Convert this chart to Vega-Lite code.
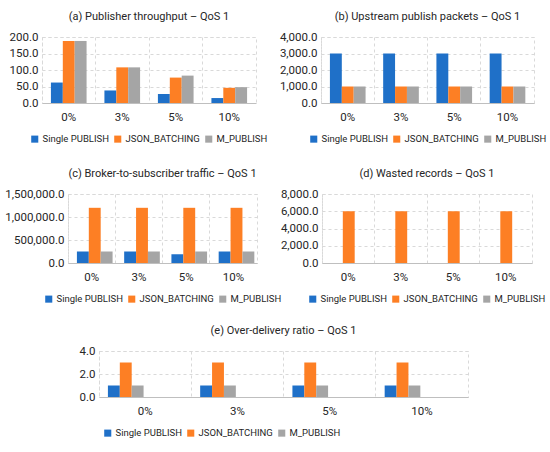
{
  "$schema": "https://vega.github.io/schema/vega-lite/v6.json",
  "background": "white",
  "padding": {"left": -24, "right": 0, "top": 10, "bottom": 5},
  "datasets": {
    "a": [
      {"pct": "0%", "series": "Single PUBLISH", "value": 62},
      {"pct": "0%", "series": "JSON_BATCHING", "value": 188},
      {"pct": "0%", "series": "M_PUBLISH", "value": 188},
      {"pct": "3%", "series": "Single PUBLISH", "value": 38},
      {"pct": "3%", "series": "JSON_BATCHING", "value": 108},
      {"pct": "3%", "series": "M_PUBLISH", "value": 108},
      {"pct": "5%", "series": "Single PUBLISH", "value": 27},
      {"pct": "5%", "series": "JSON_BATCHING", "value": 77},
      {"pct": "5%", "series": "M_PUBLISH", "value": 83},
      {"pct": "10%", "series": "Single PUBLISH", "value": 15},
      {"pct": "10%", "series": "JSON_BATCHING", "value": 46},
      {"pct": "10%", "series": "M_PUBLISH", "value": 48}
    ],
    "b": [
      {"pct": "0%", "series": "Single PUBLISH", "value": 3000},
      {"pct": "0%", "series": "JSON_BATCHING", "value": 1000},
      {"pct": "0%", "series": "M_PUBLISH", "value": 1000},
      {"pct": "3%", "series": "Single PUBLISH", "value": 3000},
      {"pct": "3%", "series": "JSON_BATCHING", "value": 1000},
      {"pct": "3%", "series": "M_PUBLISH", "value": 1000},
      {"pct": "5%", "series": "Single PUBLISH", "value": 3000},
      {"pct": "5%", "series": "JSON_BATCHING", "value": 1000},
      {"pct": "5%", "series": "M_PUBLISH", "value": 1000},
      {"pct": "10%", "series": "Single PUBLISH", "value": 3000},
      {"pct": "10%", "series": "JSON_BATCHING", "value": 1000},
      {"pct": "10%", "series": "M_PUBLISH", "value": 1000}
    ],
    "c": [
      {"pct": "0%", "series": "Single PUBLISH", "value": 250000},
      {"pct": "0%", "series": "JSON_BATCHING", "value": 1200000},
      {"pct": "0%", "series": "M_PUBLISH", "value": 250000},
      {"pct": "3%", "series": "Single PUBLISH", "value": 250000},
      {"pct": "3%", "series": "JSON_BATCHING", "value": 1200000},
      {"pct": "3%", "series": "M_PUBLISH", "value": 250000},
      {"pct": "5%", "series": "Single PUBLISH", "value": 190000},
      {"pct": "5%", "series": "JSON_BATCHING", "value": 1200000},
      {"pct": "5%", "series": "M_PUBLISH", "value": 250000},
      {"pct": "10%", "series": "Single PUBLISH", "value": 250000},
      {"pct": "10%", "series": "JSON_BATCHING", "value": 1200000},
      {"pct": "10%", "series": "M_PUBLISH", "value": 250000}
    ],
    "d": [
      {"pct": "0%", "series": "Single PUBLISH", "value": 0},
      {"pct": "0%", "series": "JSON_BATCHING", "value": 6000},
      {"pct": "0%", "series": "M_PUBLISH", "value": 0},
      {"pct": "3%", "series": "Single PUBLISH", "value": 0},
      {"pct": "3%", "series": "JSON_BATCHING", "value": 6000},
      {"pct": "3%", "series": "M_PUBLISH", "value": 0},
      {"pct": "5%", "series": "Single PUBLISH", "value": 0},
      {"pct": "5%", "series": "JSON_BATCHING", "value": 6000},
      {"pct": "5%", "series": "M_PUBLISH", "value": 0},
      {"pct": "10%", "series": "Single PUBLISH", "value": 0},
      {"pct": "10%", "series": "JSON_BATCHING", "value": 6000},
      {"pct": "10%", "series": "M_PUBLISH", "value": 0}
    ],
    "e": [
      {"pct": "0%", "series": "Single PUBLISH", "value": 1},
      {"pct": "0%", "series": "JSON_BATCHING", "value": 3},
      {"pct": "0%", "series": "M_PUBLISH", "value": 1},
      {"pct": "3%", "series": "Single PUBLISH", "value": 1},
      {"pct": "3%", "series": "JSON_BATCHING", "value": 3},
      {"pct": "3%", "series": "M_PUBLISH", "value": 1},
      {"pct": "5%", "series": "Single PUBLISH", "value": 1},
      {"pct": "5%", "series": "JSON_BATCHING", "value": 3},
      {"pct": "5%", "series": "M_PUBLISH", "value": 1},
      {"pct": "10%", "series": "Single PUBLISH", "value": 1},
      {"pct": "10%", "series": "JSON_BATCHING", "value": 3},
      {"pct": "10%", "series": "M_PUBLISH", "value": 1}
    ]
  },
  "vconcat": [
    {
      "hconcat": [
        {
          "data": {"values": []},
          "width": 1, "height": 1,
          "mark": {"type": "point", "opacity": 0},
          "encoding": {},
          "view": {"stroke": null}
        },
        {
          "title": "(a) Publisher throughput – QoS 1",
          "data": {"name": "a"},
          "width": 214, "height": 66,
          "mark": {"type": "bar"},
          "encoding": {
            "x": {"field": "pct", "type": "nominal", "sort": ["0%", "3%", "5%", "10%"], "scale": {"paddingInner": 0, "paddingOuter": 0}, "axis": {"title": null, "labelAngle": 0, "grid": true, "bandPosition": 0, "ticks": false, "labelPadding": 8}},
            "xOffset": {"field": "series", "type": "nominal", "sort": ["Single PUBLISH", "JSON_BATCHING", "M_PUBLISH"], "scale": {"paddingOuter": 0.75, "paddingInner": 0}},
            "y": {"field": "value", "type": "quantitative", "scale": {"domain": [0, 200]}, "axis": {"title": null, "format": ",.1f", "values": [0, 50, 100, 150, 200]}},
            "color": {"field": "series", "type": "nominal", "scale": {"domain": ["Single PUBLISH", "JSON_BATCHING", "M_PUBLISH"], "range": ["#1f70c8", "#fd7f24", "#a5a5a5"]}, "legend": {"title": null, "orient": "bottom", "direction": "horizontal", "symbolType": "square"}}
          }
        },
        {
          "title": "(b) Upstream publish packets – QoS 1",
          "data": {"name": "b"},
          "width": 213, "height": 66,
          "mark": {"type": "bar"},
          "encoding": {
            "x": {"field": "pct", "type": "nominal", "sort": ["0%", "3%", "5%", "10%"], "scale": {"paddingInner": 0, "paddingOuter": 0}, "axis": {"title": null, "labelAngle": 0, "grid": true, "bandPosition": 0, "ticks": false, "labelPadding": 8}},
            "xOffset": {"field": "series", "type": "nominal", "sort": ["Single PUBLISH", "JSON_BATCHING", "M_PUBLISH"], "scale": {"paddingOuter": 0.75, "paddingInner": 0}},
            "y": {"field": "value", "type": "quantitative", "scale": {"domain": [0, 4000]}, "axis": {"title": null, "format": ",.1f", "values": [0, 1000, 2000, 3000, 4000]}},
            "color": {"field": "series", "type": "nominal", "scale": {"domain": ["Single PUBLISH", "JSON_BATCHING", "M_PUBLISH"], "range": ["#1f70c8", "#fd7f24", "#a5a5a5"]}, "legend": {"title": null, "orient": "bottom", "direction": "horizontal", "symbolType": "square"}}
          }
        }
      ],
      "spacing": 65,
      "bounds": "flush",
      "resolve": {"scale": {"color": "independent"}, "legend": {"color": "independent"}}
    },
    {
      "hconcat": [
        {
          "data": {"values": []},
          "width": 27, "height": 1,
          "mark": {"type": "point", "opacity": 0},
          "encoding": {},
          "view": {"stroke": null}
        },
        {
          "title": "(c) Broker-to-subscriber traffic – QoS 1",
          "data": {"name": "c"},
          "width": 189, "height": 69,
          "mark": {"type": "bar"},
          "encoding": {
            "x": {"field": "pct", "type": "nominal", "sort": ["0%", "3%", "5%", "10%"], "scale": {"paddingInner": 0, "paddingOuter": 0}, "axis": {"title": null, "labelAngle": 0, "grid": true, "bandPosition": 0, "ticks": false, "labelPadding": 8}},
            "xOffset": {"field": "series", "type": "nominal", "sort": ["Single PUBLISH", "JSON_BATCHING", "M_PUBLISH"], "scale": {"paddingOuter": 0.75, "paddingInner": 0}},
            "y": {"field": "value", "type": "quantitative", "scale": {"domain": [0, 1500000]}, "axis": {"title": null, "format": ",.1f", "values": [0, 500000, 1000000, 1500000]}},
            "color": {"field": "series", "type": "nominal", "scale": {"domain": ["Single PUBLISH", "JSON_BATCHING", "M_PUBLISH"], "range": ["#1f70c8", "#fd7f24", "#a5a5a5"]}, "legend": {"title": null, "orient": "bottom", "direction": "horizontal", "symbolType": "square"}}
          }
        },
        {
          "title": "(d) Wasted records – QoS 1",
          "data": {"name": "d"},
          "width": 210, "height": 69,
          "mark": {"type": "bar"},
          "encoding": {
            "x": {"field": "pct", "type": "nominal", "sort": ["0%", "3%", "5%", "10%"], "scale": {"paddingInner": 0, "paddingOuter": 0}, "axis": {"title": null, "labelAngle": 0, "grid": true, "bandPosition": 0, "ticks": false, "labelPadding": 8}},
            "xOffset": {"field": "series", "type": "nominal", "sort": ["Single PUBLISH", "JSON_BATCHING", "M_PUBLISH"], "scale": {"paddingOuter": 0.75, "paddingInner": 0}},
            "y": {"field": "value", "type": "quantitative", "scale": {"domain": [0, 8000]}, "axis": {"title": null, "format": ",.1f", "values": [0, 2000, 4000, 6000, 8000]}},
            "color": {"field": "series", "type": "nominal", "scale": {"domain": ["Single PUBLISH", "JSON_BATCHING", "M_PUBLISH"], "range": ["#1f70c8", "#fd7f24", "#a5a5a5"]}, "legend": {"title": null, "orient": "bottom", "direction": "horizontal", "symbolType": "square"}}
          }
        }
      ],
      "spacing": 65,
      "bounds": "flush",
      "resolve": {"scale": {"color": "independent"}, "legend": {"color": "independent"}}
    },
    {
      "hconcat": [
        {
          "data": {"values": []},
          "width": 58, "height": 1,
          "mark": {"type": "point", "opacity": 0},
          "encoding": {},
          "view": {"stroke": null}
        },
        {
          "title": "(e) Over-delivery ratio – QoS 1",
          "data": {"name": "e"},
          "width": 369, "height": 46,
          "mark": {"type": "bar"},
          "encoding": {
            "x": {"field": "pct", "type": "nominal", "sort": ["0%", "3%", "5%", "10%"], "scale": {"paddingInner": 0, "paddingOuter": 0}, "axis": {"title": null, "labelAngle": 0, "grid": true, "bandPosition": 0, "ticks": false, "labelPadding": 8}},
            "xOffset": {"field": "series", "type": "nominal", "sort": ["Single PUBLISH", "JSON_BATCHING", "M_PUBLISH"], "scale": {"paddingOuter": 0.75, "paddingInner": 0}},
            "y": {"field": "value", "type": "quantitative", "scale": {"domain": [0, 4]}, "axis": {"title": null, "format": ",.1f", "values": [0, 2, 4]}},
            "color": {"field": "series", "type": "nominal", "scale": {"domain": ["Single PUBLISH", "JSON_BATCHING", "M_PUBLISH"], "range": ["#1f70c8", "#fd7f24", "#a5a5a5"]}, "legend": {"title": null, "orient": "bottom", "direction": "horizontal", "symbolType": "square"}}
          }
        }
      ],
      "spacing": 65,
      "bounds": "flush"
    }
  ],
  "spacing": 157,
  "bounds": "flush",
  "resolve": {"scale": {"color": "independent"}, "legend": {"color": "independent"}},
  "config": {
    "font": "Roboto",
    "view": {"stroke": "#d9d9d9", "strokeDash": [3, 3]},
    "title": {"fontSize": 11, "fontWeight": "normal", "color": "#262626", "anchor": "middle", "offset": 9},
    "axis": {"labelFontSize": 11.5, "labelColor": "#262626", "gridColor": "#d9d9d9", "gridDash": [3, 3], "domainColor": "#bfbfbf", "ticks": false},
    "axisY": {"domain": false, "labelPadding": 4},
    "legend": {"labelFontSize": 9.5, "labelColor": "#262626", "symbolSize": 50, "symbolStrokeWidth": 0, "columnPadding": 4, "offset": 11, "padding": 0, "labelOffset": 3, "layout": {"bottom": {"anchor": "middle"}}}
  }
}
